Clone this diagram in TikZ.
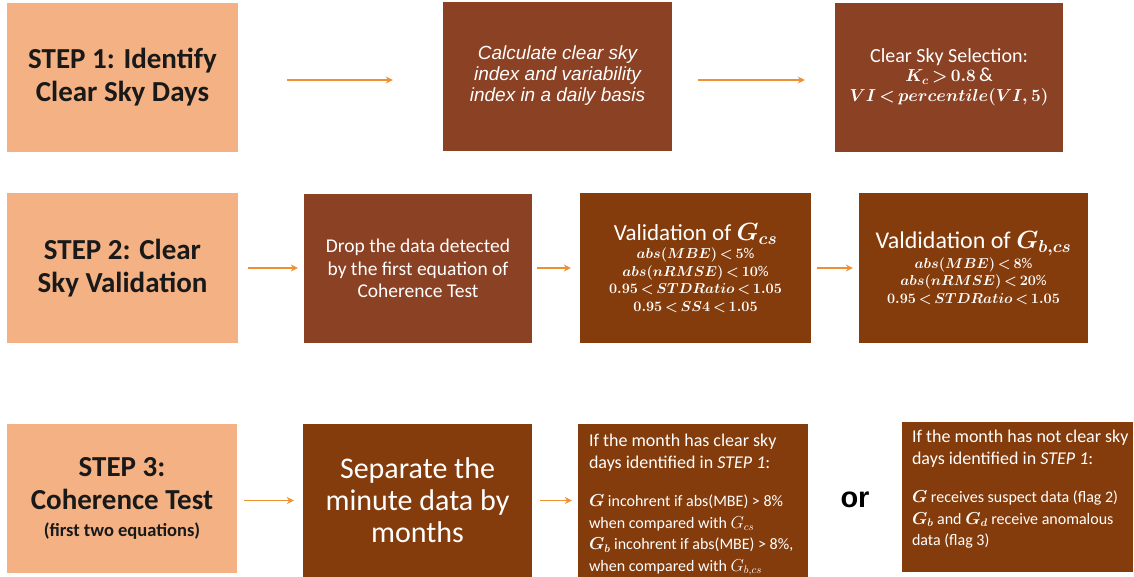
\documentclass[tikz,border=0pt]{standalone}
\usepackage{fontspec}
\usepackage{amsmath}
\usetikzlibrary{arrows.meta}
\setmainfont{Carlito}
\newfontfamily\arialfont{Liberation Sans}
\definecolor{peach}{RGB}{244,177,131}
\definecolor{rust}{RGB}{139,65,35}
\definecolor{umber}{RGB}{132,60,12}
\definecolor{arrorange}{RGB}{237,145,50}
\newcommand{\boldeq}[1]{{\boldmath$#1$}}
\newcommand{\eqsize}{\fontsize{15}{17.5}\selectfont\thickmuskip=3mu plus 1mu}
\newcommand{\notesmall}{\fontsize{16}{20.7}\selectfont}

\begin{document}
\begin{tikzpicture}[x=1pt,y=-1pt,
      stepbox/.style={fill=peach,text=black!90,align=center,inner sep=0pt,
        minimum width=231pt,minimum height=149pt,
        font=\fontsize{29}{33}\selectfont\bfseries},
      rustbox/.style={fill=rust,text=white,align=center,inner sep=0pt,
        minimum width=229pt,minimum height=149pt},
      umberbox/.style={fill=umber,text=white,align=center,inner sep=0pt,
        minimum width=230pt,minimum height=150pt},
      notetext/.style={text=white,align=left,inner sep=0pt,anchor=north west,
        font=\fontsize{18}{21.5}\selectfont},
      arr/.style={draw=arrorange,line width=1.3pt,-{Stealth[length=7pt,width=7pt]}}]
    \useasboundingbox (0,0) rectangle (1134,576);

    % step 1
    \node[stepbox] (s1) at (122.5,77.5) {STEP 1: Identify\\Clear Sky Days};
    \node[rustbox,font=\arialfont\itshape\fontsize{19}{21}\selectfont] (calc) at (557.5,76)
      {Calculate clear sky\\index and variability\\index in a daily basis};
    \node[rustbox,minimum width=228pt,font=\fontsize{20}{20}\selectfont] (sel) at (949,77.5)
      {Clear Sky Selection:\\[-1pt]
       {\fontsize{16.5}{20}\selectfont\thickmuskip=3mu plus 1mu\boldeq{K_c > 0.8}}\,\&\\
       {\fontsize{16.5}{20}\selectfont\thickmuskip=3mu plus 1mu\boldeq{VI < percentile(VI,5)}}};

    % step 2
    \node[stepbox,minimum height=150pt] (s2) at (122.5,268) {STEP 2: Clear\\Sky Validation};
    \node[rustbox,minimum width=228pt,font=\fontsize{19.5}{22.5}\selectfont] (drop) at (418,268.5)
      {Drop the data detected\\by the first equation of\\Coherence Test};
    \node[umberbox,minimum width=231pt,font=\eqsize] (valg) at (695.5,268)
      {{\fontsize{23}{23}\selectfont Validation of \boldeq{G_{cs}}}\\[1pt]
       \boldeq{abs(MBE) < 5}\%\\\boldeq{abs(nRMSE) < 10}\%\\
       \boldeq{0.95 < STDRatio < 1.05}\\\boldeq{0.95 < SS4 < 1.05}};
    \node[umberbox,minimum width=229pt,font=\eqsize] (valgb) at (973.5,268)
      {{\fontsize{24}{24}\selectfont Valdidation of \boldeq{G_{b,cs}}}\\[1pt]
       \boldeq{abs(MBE) < 8}\%\\\boldeq{abs(nRMSE) < 20}\%\\
       \boldeq{0.95 < STDRatio < 1.05}};

    % step 3
    \node[stepbox,minimum width=230pt] (s3) at (122,498.5)
      {STEP 3:\\Coherence Test\\[-6pt]{\fontsize{18.5}{20}\selectfont (first two equations)}};
    \node[umberbox,minimum width=229pt,minimum height=153pt,font=\fontsize{30}{32}\selectfont] (sep) at (417.5,500.5)
      {Separate the\\minute data by\\months};
    \node[umberbox,minimum height=153pt] (if1) at (693,500.5) {};
    \node[notetext] (if1txt) at ([xshift=11pt,yshift=-10pt]if1.north west)
      {If the month has clear sky\\days identified in \textit{STEP 1}:\\[17pt]
       \notesmall\boldeq{G} incohrent if abs(MBE) > 8\%\\
       \notesmall when compared with $G_{cs}$\\
       \notesmall\boldeq{G_b} incohrent if abs(MBE) > 8\%,\\
       \notesmall when compared with $G_{b,cs}$};
    \node[font=\arialfont\bfseries\fontsize{29}{30}\selectfont] (alt) at (855,500) {or};
    \node[umberbox,minimum width=231pt] (if2) at (1017.5,497) {};
    \node[notetext] (if2txt) at ([xshift=10pt,yshift=-8pt]if2.north west)
      {If the month has not clear sky\\days identified in \textit{STEP 1}:\\[17pt]
       \notesmall\boldeq{G} receives suspect data (flag 2)\\
       \notesmall\boldeq{G_b} and \boldeq{G_d} receive anomalous\\
       \notesmall data (flag 3)};

    % connectors
    \draw[arr,shorten <=49pt,shorten >=50pt] (s1.east |- 0,80) -- (calc.west |- 0,80);
    \draw[arr,shorten <=26pt,shorten >=30pt] (calc.east |- 0,80) -- (sel.west |- 0,80);
    \draw[arr,shorten <=10pt,shorten >=6pt] (s2.east) -- (s2.east -| drop.west);
    \draw[arr,shorten <=5pt,shorten >=9pt] (drop.east |- s2.east) -- (s2.east -| valg.west);
    \draw[arr,shorten <=6pt,shorten >=6pt] (valg.east) -- (valg.east -| valgb.west);
    \draw[arr,shorten <=7pt,shorten >=9pt] (s3.east |- sep.west) -- (sep.west);
    \draw[arr,shorten <=8pt,shorten >=6pt] (sep.east) -- (sep.east -| if1.west);
\end{tikzpicture}
\end{document}
